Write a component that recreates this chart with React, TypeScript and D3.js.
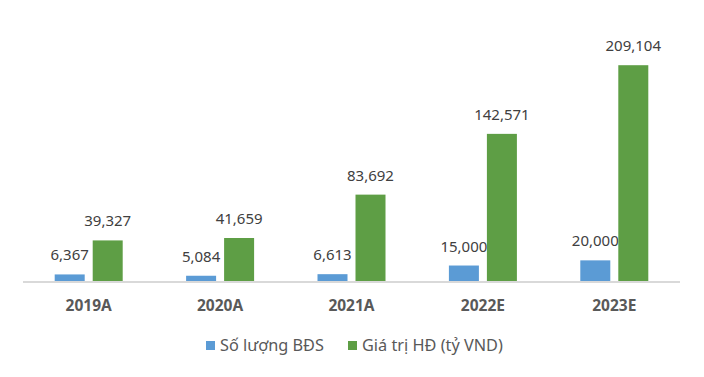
import React from "react";
import * as d3 from "d3";

const categories = ["2019A", "2020A", "2021A", "2022E", "2023E"];
const soLuong = [6367, 5084, 6613, 15000, 20000];
const giaTri = [39327, 41659, 83692, 142571, 209104];
const seriesNames = ["Số lượng BĐS", "Giá trị HĐ (tỷ VND)"];
const colors = ["#5B9BD5", "#5E9E45"];

const W = 704;
const H = 377;
const FONT = "'Noto Sans', 'Open Sans', sans-serif";

export default function App() {
  const x = d3.scaleBand<string>().domain(categories).range([23, 680]).paddingInner(0).paddingOuter(0);
  const y = d3.scaleLinear().domain([0, 250000]).range([281, 23]);
  const bw = x.bandwidth();
  const sub = d3.scaleBand<number>().domain([0, 1]).range([(bw - 68) / 2, (bw + 68) / 2]).paddingInner(8 / 38).paddingOuter(0);
  const fmt = d3.format(",");
  const series = [soLuong, giaTri];
  return (
    <svg width={W} height={H} style={{ position: "absolute", left: 0, top: 0 }} fontFamily={FONT}>
      <rect width={W} height={H} fill="#fff" />
      {series.map((vals, si) =>
        vals.map((v, i) => {
          const bx = (x(categories[i]) as number) + (sub(si) as number);
          return (
            <g key={`${si}-${i}`}>
              <rect x={bx} y={y(v)} width={sub.bandwidth()} height={y(0) - y(v)} fill={colors[si]} />
              <text x={bx + sub.bandwidth() / 2} y={y(v) - 14} textAnchor="middle" fontSize={15} fill="#404040">
                {fmt(v)}
              </text>
            </g>
          );
        })
      )}
      <line x1={23} x2={680} y1={y(0) + 1} y2={y(0) + 1} stroke="#D9D9D9" strokeWidth={2} />
      {categories.map((c) => (
        <text key={c} x={(x(c) as number) + bw / 2} y={311} textAnchor="middle" fontSize={15.5} fontWeight="bold" fill="#595959">
          {c}
        </text>
      ))}
      {seriesNames.map((n, i) => {
        const lx = [206, 348][i];
        return (
          <g key={n}>
            <rect x={lx} y={341} width={9} height={9} fill={colors[i]} />
            <text x={lx + 14} y={351} fontSize={16.3} fill="#595959">{n}</text>
          </g>
        );
      })}
    </svg>
  );
}
